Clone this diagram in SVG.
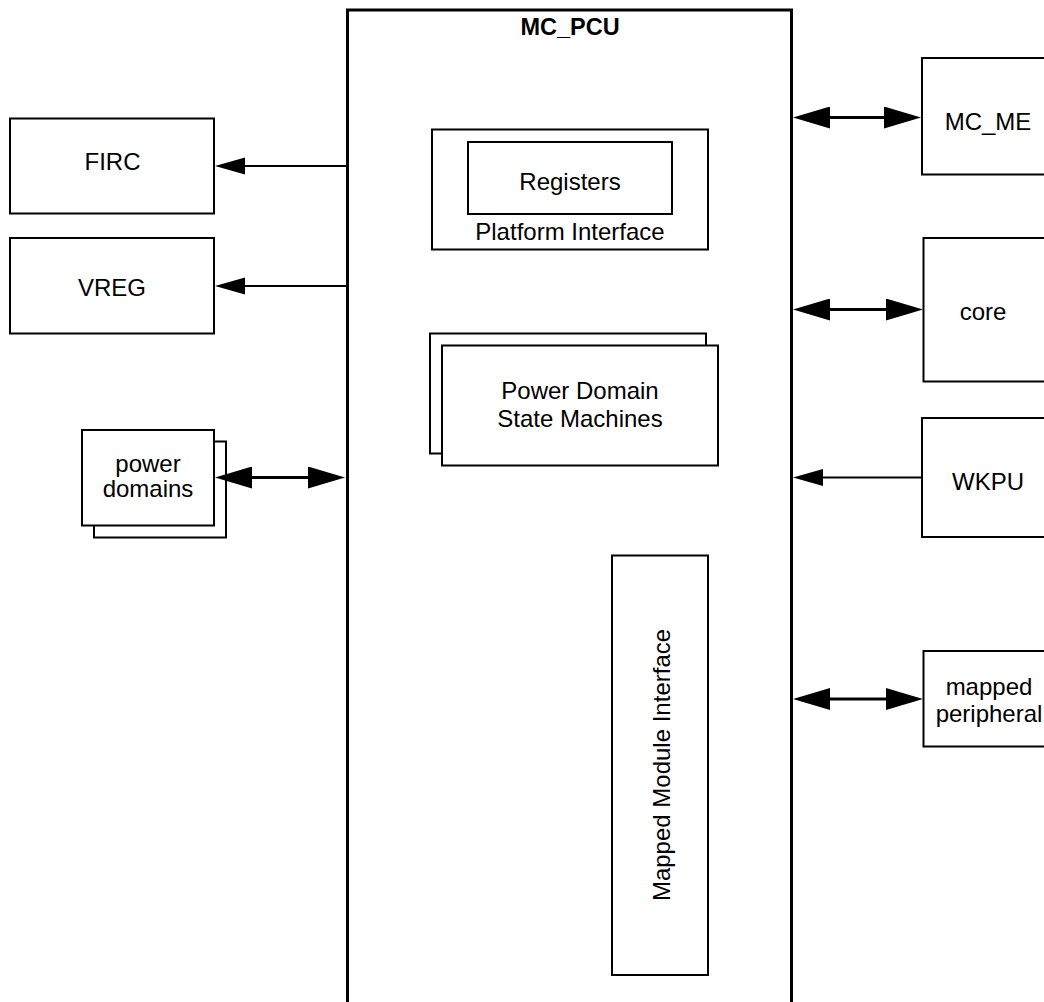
<svg xmlns="http://www.w3.org/2000/svg" width="1044" height="1002" viewBox="0 0 1044 1002">
<defs>
<style>
.box{fill:#fff;stroke:#000;stroke-width:2}
.main{fill:none;stroke:#000;stroke-width:3}
.t{font-family:"Liberation Sans",Arial,sans-serif;font-size:24px;fill:#000;text-anchor:middle}
.b{font-weight:bold;font-size:23.5px}
.c1{stroke:#000;stroke-width:2;fill:none}
.c2{stroke:#000;stroke-width:3;fill:none}
</style>
<marker id="ah1" markerUnits="userSpaceOnUse" viewBox="0 -9 30 18" refX="0" refY="0" markerWidth="30" markerHeight="18" orient="auto-start-reverse">
<path d="M0,-8.5 L30,0 L0,8.5 z" fill="#000"/>
</marker>
<marker id="ah2" markerUnits="userSpaceOnUse" viewBox="0 -11 37 22" refX="0" refY="0" markerWidth="37" markerHeight="22" orient="auto-start-reverse">
<path d="M0,-11 L37,0 L0,11 z" fill="#000"/>
</marker>
</defs>
<rect width="1044" height="1002" fill="#fff"/>

<g id="mc_pcu">
<rect class="main" x="347.5" y="10" width="444" height="1010"/>
<text class="t b" x="570" y="35">MC_PCU</text>
</g>

<g id="platform_interface">
<rect class="box" x="432" y="129.5" width="276" height="120"/>
<text class="t" x="570" y="240">Platform Interface</text>
</g>

<g id="registers">
<rect class="box" x="468" y="142" width="204" height="72"/>
<text class="t" x="570" y="189.5">Registers</text>
</g>

<g id="pd_state_machines">
<rect class="box" x="430" y="333.5" width="276" height="120"/>
<rect class="box" x="442" y="345.5" width="276" height="120"/>
<text class="t" x="580" y="398.5">Power Domain</text>
<text class="t" x="580" y="427">State Machines</text>
</g>

<g id="mapped_module_interface">
<rect class="box" x="612" y="555.5" width="96" height="419.5"/>
<text class="t" transform="translate(669.5,765) rotate(-90)" x="0" y="0">Mapped Module Interface</text>
</g>

<g id="firc">
<rect class="box" x="10" y="118.5" width="204" height="95"/>
<text class="t" x="112.5" y="169.5">FIRC</text>
</g>

<g id="vreg">
<rect class="box" x="10" y="238" width="204" height="95.5"/>
<text class="t" x="112" y="295.5">VREG</text>
</g>

<g id="power_domains">
<rect class="box" x="94" y="441.5" width="132" height="96"/>
<rect class="box" x="82" y="430" width="132" height="95.5"/>
<text class="t" x="148" y="472">power</text>
<text class="t" x="148" y="496.5">domains</text>
</g>

<g id="mc_me">
<rect class="box" x="922" y="58" width="130" height="116.5"/>
<text class="t" x="988" y="129.5">MC_ME</text>
</g>

<g id="core">
<rect class="box" x="923.5" y="238" width="130" height="143.5"/>
<text class="t" x="983" y="319.5">core</text>
</g>

<g id="wkpu">
<rect class="box" x="922" y="418" width="130" height="119"/>
<text class="t" x="988" y="489.5">WKPU</text>
</g>

<g id="mapped_peripheral">
<rect class="box" x="923.5" y="651" width="130" height="95.5"/>
<text class="t" x="989" y="694.5">mapped</text>
<text class="t" x="989" y="722">peripheral</text>
</g>

<g id="connectors">
<line class="c1" x1="346" y1="166" x2="245" y2="166" marker-end="url(#ah1)"/>
<line class="c1" x1="346" y1="286" x2="245" y2="286" marker-end="url(#ah1)"/>
<line class="c1" x1="922" y1="477.5" x2="823" y2="477.5" marker-end="url(#ah1)"/>
<line class="c2" x1="252" y1="477.5" x2="308" y2="477.5" marker-start="url(#ah2)" marker-end="url(#ah2)"/>
<line class="c2" x1="830" y1="117.5" x2="884" y2="117.5" marker-start="url(#ah2)" marker-end="url(#ah2)"/>
<line class="c2" x1="830" y1="309.5" x2="886" y2="309.5" marker-start="url(#ah2)" marker-end="url(#ah2)"/>
<line class="c2" x1="830" y1="699" x2="886" y2="699" marker-start="url(#ah2)" marker-end="url(#ah2)"/>
</g>
</svg>
